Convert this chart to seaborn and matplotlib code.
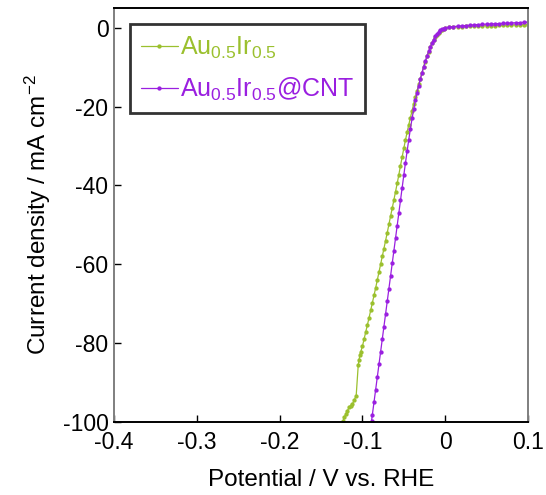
import numpy as np
import pandas as pd
import matplotlib
matplotlib.use("Agg")
import matplotlib.pyplot as plt
import seaborn as sns

# Polarisation curves (potential in V vs. RHE, current density in mA cm^-2)
potential_auir = [
    0.100, 0.095, 0.090, 0.085, 0.080, 0.075, 0.070, 0.065, 0.060, 0.055,
    0.050, 0.045, 0.040, 0.035, 0.030, 0.025, 0.020, 0.015, 0.010, 0.005,
    0.000, -0.002, -0.004, -0.006, -0.008, -0.010, -0.012, -0.014, -0.016, -0.018,
    -0.020, -0.022, -0.024, -0.026, -0.028, -0.030, -0.032, -0.034, -0.036, -0.038,
    -0.040, -0.042, -0.044, -0.046, -0.048, -0.050, -0.052, -0.054, -0.056, -0.058,
    -0.060, -0.062, -0.064, -0.066, -0.068, -0.070, -0.072, -0.074, -0.076, -0.078,
    -0.080, -0.082, -0.084, -0.086, -0.088, -0.090, -0.092, -0.094, -0.096, -0.098,
    -0.100, -0.102, -0.103, -0.104, -0.105, -0.1075, -0.110, -0.112, -0.114, -0.116,
    -0.118, -0.120, -0.122, -0.123,
]
current_auir = [
    0.80, 0.77, 0.74, 0.71, 0.68, 0.65, 0.62, 0.59, 0.56, 0.53,
    0.50, 0.47, 0.44, 0.41, 0.38, 0.34, 0.30, 0.25, 0.18, 0.08,
    -0.10, -0.25, -0.50, -0.85, -1.30, -1.85, -2.45, -3.15, -4.00, -5.00,
    -6.10, -7.30, -8.60, -10.0, -11.4, -12.9, -14.4, -16.0, -17.6, -19.3,
    -21.0, -22.8, -24.6, -26.5, -28.5, -30.6, -32.8, -35.0, -37.3, -39.5,
    -41.6, -43.7, -45.8, -47.8, -49.9, -52.0, -54.0, -56.0, -58.0, -60.0,
    -62.0, -64.0, -66.0, -67.9, -69.8, -71.7, -73.6, -75.4, -77.2, -79.0,
    -80.8, -82.2, -83.0, -84.2, -85.5, -93.3, -94.5, -95.4, -95.9, -96.3,
    -97.1, -98.0, -98.8, -99.8,
]

potential_cnt = [
    0.100, 0.095, 0.090, 0.085, 0.080, 0.075, 0.070, 0.065, 0.060, 0.055,
    0.050, 0.045, 0.040, 0.035, 0.030, 0.025, 0.020, 0.015, 0.010, 0.005,
    0.000, -0.002, -0.004, -0.006, -0.008, -0.010, -0.012, -0.014, -0.016, -0.018,
    -0.020, -0.022, -0.024, -0.026, -0.028, -0.030, -0.032, -0.034, -0.036, -0.038,
    -0.040, -0.042, -0.044, -0.046, -0.048, -0.050, -0.052, -0.054, -0.056, -0.058,
    -0.060, -0.062, -0.064, -0.066, -0.068, -0.070, -0.072, -0.074, -0.076, -0.078,
    -0.080, -0.082, -0.084, -0.086, -0.088, -0.089,
]
current_cnt = [
    1.40, 1.35, 1.30, 1.25, 1.20, 1.15, 1.10, 1.05, 1.00, 0.95,
    0.90, 0.85, 0.80, 0.72, 0.64, 0.56, 0.48, 0.38, 0.28, 0.15,
    -0.05, -0.20, -0.40, -0.70, -1.10, -1.60, -2.20, -3.00, -3.90, -4.90,
    -6.00, -7.20, -8.50, -9.90, -11.4, -13.0, -14.7, -16.5, -18.4, -20.6,
    -23.0, -25.6, -28.4, -31.3, -34.3, -37.4, -40.6, -43.8, -47.0, -50.2,
    -53.4, -56.6, -59.8, -63.0, -66.2, -69.4, -72.6, -75.8, -79.0, -82.2,
    -85.4, -88.6, -91.8, -95.0, -98.2, -99.8,
]

sample_names = [r"Au$_{0.5}$Ir$_{0.5}$", r"Au$_{0.5}$Ir$_{0.5}$@CNT"]
sample_colors = ["#9bc02e", "#9a1fe0"]
x_ticks = [-0.4, -0.3, -0.2, -0.1, 0.0, 0.1]
x_tick_labels = ["-0.4", "-0.3", "-0.2", "-0.1", "0", "0.1"]
y_ticks = [0, -20, -40, -60, -80, -100]
y_tick_labels = ["0", "-20", "-40", "-60", "-80", "-100"]

df = pd.concat([
    pd.DataFrame({"E": potential_auir, "j": current_auir, "sample": sample_names[0]}),
    pd.DataFrame({"E": potential_cnt, "j": current_cnt, "sample": sample_names[1]}),
], ignore_index=True)

sns.set_theme(style="white")
plt.rcParams["font.family"] = ["Liberation Sans", "DejaVu Sans"]
plt.rcParams["mathtext.fontset"] = "custom"
plt.rcParams["mathtext.rm"] = "Liberation Sans"
plt.rcParams["mathtext.it"] = "Liberation Sans:italic"
plt.rcParams["mathtext.bf"] = "Liberation Sans:bold"

fig = plt.figure(figsize=(5.46, 4.95), dpi=100)
ax = fig.add_axes([114 / 546, 1 - 422 / 495, 414 / 546, 414 / 495])

sns.lineplot(
    data=df, x="E", y="j", hue="sample", hue_order=sample_names,
    palette=sample_colors, marker="o", markersize=3.1, markeredgewidth=0,
    linewidth=0.9, estimator=None, sort=False, ax=ax,
)

ax.set_xlim(-0.4, 0.1)
ax.set_ylim(-100, 5)
ax.set_xticks(x_ticks)
ax.set_xticklabels(x_tick_labels)
ax.set_yticks(y_ticks)
ax.set_yticklabels(y_tick_labels)
ax.tick_params(axis="both", direction="in", length=5, width=1, color="black",
               labelsize=16.5, labelcolor="black", pad=4,
               bottom=True, left=True, top=False, right=False)
ax.tick_params(axis="x", pad=6.5)

for side in ("top", "bottom"):
    ax.spines[side].set_color("black")
    ax.spines[side].set_linewidth(1.4)
for side in ("left", "right"):
    ax.spines[side].set_color("#7f7f7f")
    ax.spines[side].set_linewidth(1.4)

ax.set_xlabel("Potential / V vs. RHE", fontsize=17.5, color="black", labelpad=11)
ax.set_ylabel(r"Current density / mA cm$^{-2}$", fontsize=17.5, color="black", labelpad=7)

leg = ax.legend(
    loc="upper left", bbox_to_anchor=(16 / 414, (422 - 24) / 414),
    borderaxespad=0, fontsize=18, frameon=True, fancybox=False,
    handlelength=1.5, handletextpad=0.08, borderpad=0.42, labelspacing=0.6,
)
leg.get_frame().set_edgecolor("black")
leg.get_frame().set_linewidth(2)
for txt, col in zip(leg.get_texts(), sample_colors):
    txt.set_color(col)

fig.savefig("out.png", dpi=100)
